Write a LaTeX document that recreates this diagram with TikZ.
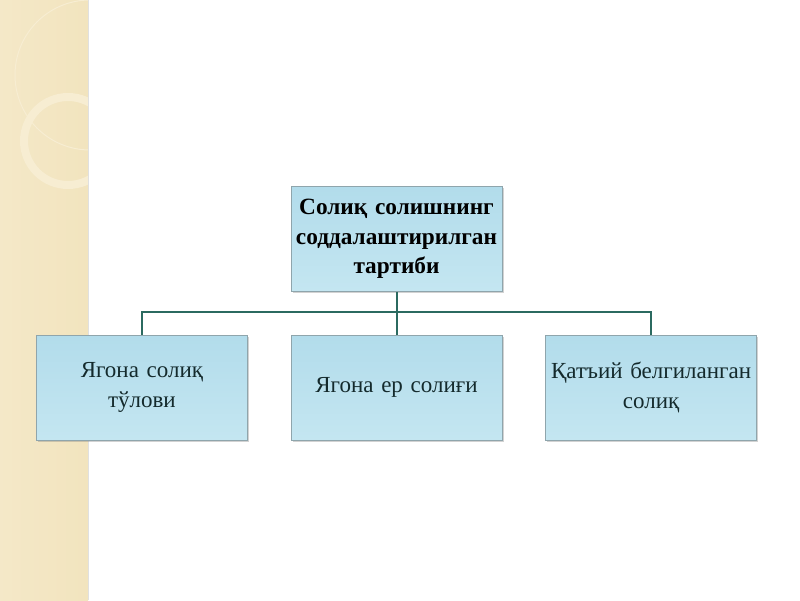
\documentclass[tikz,border=0pt]{standalone}
\usepackage{fontspec}
\setmainfont{Liberation Serif}
\usetikzlibrary{positioning, shadows}

\definecolor{boxtop}{HTML}{B2DCEB}
\definecolor{boxbottom}{HTML}{C4E6F1}
\definecolor{boxline}{HTML}{8FA5AC}
\definecolor{linkcol}{HTML}{2B6A60}
\definecolor{stripcol}{HTML}{F2E4BE}
\definecolor{ringcol}{HTML}{F7EDD2}
\definecolor{textcol}{HTML}{142A2C}

\tikzset{
	box/.style={draw=boxline, line width=0.6pt, top color=boxtop, bottom color=boxbottom,
		minimum width=211pt, minimum height=105pt, align=center, text width=204pt,
		inner xsep=3.5pt, font=\fontsize{23}{30}\selectfont, text=textcol,
		drop shadow={shadow xshift=1.5pt, shadow yshift=-1.5pt, opacity=.35}},
	topbox/.style={box, font=\bfseries\fontsize{23.3}{29.5}\selectfont, text=black},
	link/.style={draw=linkcol, line width=2pt}
}

\begin{document}
\begin{tikzpicture}
		\useasboundingbox (0,0) rectangle (800pt,600pt);
		\fill[white] (0,0) rectangle (800pt,600pt);
		% left strip
		\begin{scope}
			\clip (0,0) rectangle (88pt,600pt);
			\shade[left color=stripcol!85!white, right color=stripcol] (0,0) rectangle (88pt,600pt);
			\draw[ringcol, line width=1pt] (90pt,525pt) circle (75pt);
			\draw[ringcol, line width=8pt] (68pt,459pt) circle (44pt);
		\end{scope}
		\draw[black!12, line width=1pt] (88.5pt,0) -- (88.5pt,600pt);

		\node[topbox] (order) at (396.5pt,361pt) {Солиқ солишнинг соддалаштирилган тартиби};
		\node[box, below=43pt of order] (unified) {Ягона ер солиғи};
		\node[box, left=43pt of unified] (single) {Ягона солиқ\\тўлови};
		\node[box, right=43pt of unified] (fixed) {Қатъий белгиланган\\солиқ};

		\path (order.south) -- (unified.north) coordinate[pos=0.47] (bus);
		\path[link] (order.south) -- (unified.north);
		\path[link] (single.north) |- (bus) -| (fixed.north);
	\end{tikzpicture}
\end{document}
